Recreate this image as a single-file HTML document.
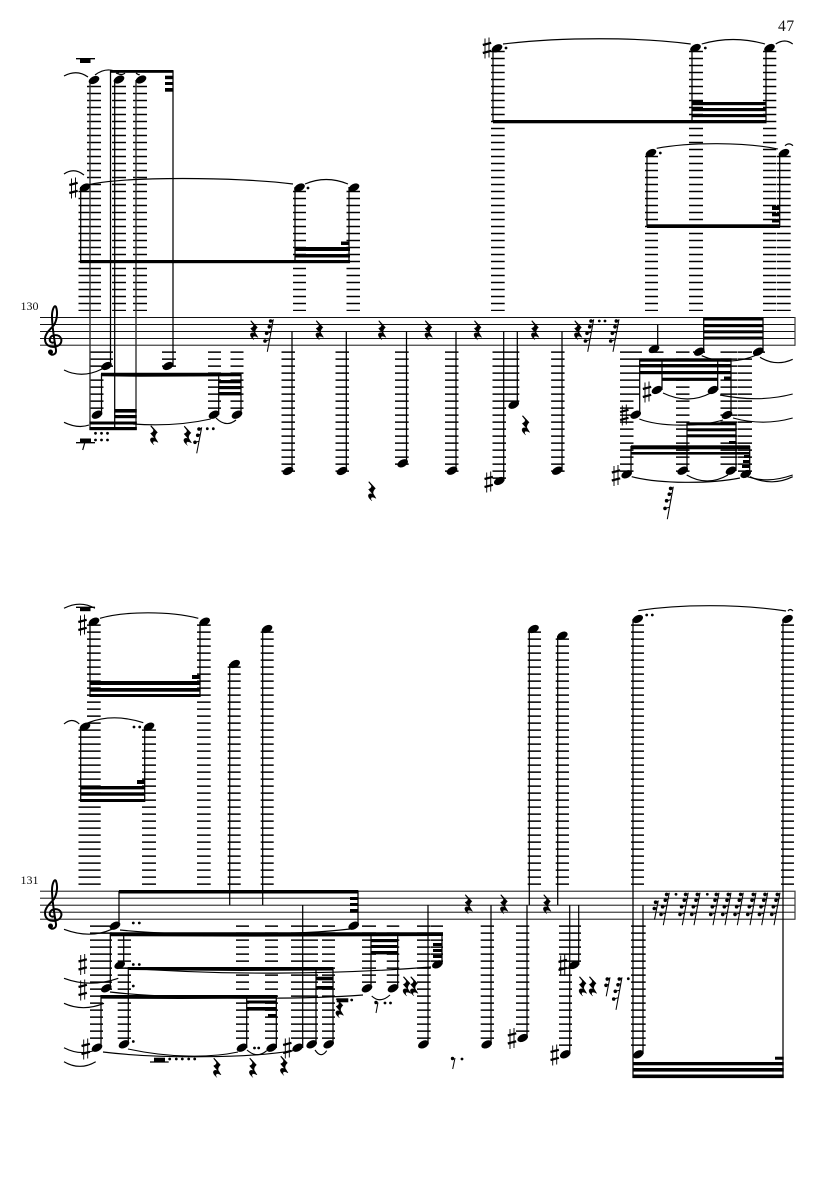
<!DOCTYPE html>
<html><head><meta charset="utf-8"><title>Score page 47</title>
<style>
html,body{margin:0;padding:0;background:#fff}
svg{display:block;position:absolute;left:0;top:0}
.l{stroke:#000;stroke-dasharray:1.5 5.5;fill:none}
.s{stroke:#000;stroke-width:1.25;fill:none}
.t{stroke:#000;stroke-width:1.15;fill:none}
.st{stroke:#111;stroke-width:1.05;fill:none}
.st2{stroke:#444;stroke-width:1.25;fill:none}
text{font-family:"Liberation Serif",serif;fill:#111}
</style></head><body>
<svg width="835" height="1181" viewBox="0 0 835 1181" xmlns="http://www.w3.org/2000/svg">
<defs>
<g id="n"><ellipse rx="5.7" ry="3.6" transform="rotate(-28)"/></g>
<g id="q"><path transform="scale(1.15 1.05)" d="M-2.5-9 3-2.5Q.5 0 1 2.5L3.5 7Q-1 4.5-1 7.5-1 8.5 0 9.5-4 6-3 3.5-2 2 .5 3L-3-1.5Q0-3-.5-5L-3-8.5Z" stroke="#000" stroke-width=".4"/></g>
<g id="h"><path d="M-2-9.5V10.5M2-10.5V9.5" stroke="#000" stroke-width=".95" fill="none"/><path d="M-4.2-3 4.2-5.2M-4.2 5 4.2 2.8" stroke="#000" stroke-width="2.2" fill="none"/></g>
<g id="r4"><path d="M0 0-6 32.5M-2.7 1.7 0 .8M-4 7.3-1.3 6.5M-6.7 14-2.5 13M-8.3 21.7-3.9 20.5" stroke="#000" stroke-width="1.05" fill="none"/><circle cx="-2.7" cy="1.7" r="1.8"/><circle cx="-4" cy="7.5" r="1.8"/><circle cx="-6.7" cy="14" r="1.8"/><circle cx="-8.3" cy="21.7" r="1.8"/></g>
<g id="r3"><path d="M0 0-5 26M-2.7 1.7 0 .8M-4 8-1.3 7M-6.7 15-2.5 14" stroke="#000" stroke-width="1.05" fill="none"/><circle cx="-2.7" cy="1.7" r="1.8"/><circle cx="-4" cy="8" r="1.8"/><circle cx="-6.7" cy="15" r="1.8"/></g>
<g id="r2"><path d="M0 0-3.8 19M-2.7 1.7 0 .8M-4 8-1.3 7" stroke="#000" stroke-width="1.05" fill="none"/><circle cx="-2.7" cy="1.7" r="1.8"/><circle cx="-4" cy="8" r="1.8"/></g>
<g id="c"><path d="M55 342C51 344 49 341 50 338.5 51 335 56 334.5 59 336 63 339 62 345 56 346.5 50 348 45 345 45 339 45 333 51 329 54 325 57 320 58 312 56 307 54.5 304 52 310 52 316 52 326 55 344 56 350 56.5 355 51 356 49.5 353" fill="none" stroke="#000" stroke-width="2"/><circle cx="50.5" cy="352" r="2.5"/></g>
</defs>

<text x="778" y="31" font-size="15.5" letter-spacing=".6">47</text>
<text x="20.5" y="310" font-size="12">130</text>
<text x="20.5" y="884" font-size="12">131</text>

<!-- staff 1 -->
<path class="st" d="M40 317.5H795M40 324.5H795M40 331.5H795M40 338.5H795"/>
<path class="st2" d="M40 345.3H795"/>
<path class="st2" d="M795 317V345.8"/>
<use href="#c"/>
<!-- staff 2 -->
<path class="st2" d="M40 891.2H795M40 898.2H795M40 905.2H795M40 912.2H795M40 919.2H795M795 890.6V919.8"/>
<use href="#c" y="574"/>

<!-- ledger lines staff 1 above -->
<path class="l" stroke-width="14" d="M94 85.7V311M119 85.7V311M140 85.7V311"/>
<path class="l" stroke-width="8.5" d="M82.75 190.7V311"/>
<path class="l" stroke-width="13" d="M299.5 190.7V311"/>
<path class="l" stroke-width="13.5" d="M353.25 190.7V311"/>
<path class="l" stroke-width="13.7" d="M497.85 50.7V311"/>
<path class="l" stroke-width="14" d="M696 50.7V311"/>
<path class="l" stroke-width="13.3" d="M769.65 50.7V311"/>
<path class="l" stroke-width="13" d="M651.5 155.7V311"/>
<path class="l" stroke-width="13.7" d="M783.85 155.7V311"/>
<!-- ledger lines staff 1 below -->
<path class="l" stroke-width="23" d="M101.5 351.4V367"/>
<path class="l" stroke-width="13.5" d="M96.75 379.4V409"/>
<path class="l" stroke-width="14" d="M169 351.4V367"/>
<path class="l" stroke-width="13" d="M214.5 351.4V409M237 351.4V409"/>
<path class="l" stroke-width="13.5" d="M288.25 351.4V472M342.25 351.4V472M451.75 351.4V472M557.85 351.4V472"/>
<path class="l" stroke-width="13.7" d="M401.85 351.4V465"/>
<path class="l" stroke-width="13.5" d="M499.25 351.4V479"/>
<path class="l" stroke-width="13.3" d="M512.65 351.4V402"/>
<path class="l" stroke-width="22" d="M631 351.4V353"/>
<path class="l" stroke-width="20" d="M630 358.4V395"/>
<path class="l" stroke-width="13.5" d="M626.75 400.4V472"/>
<path class="l" stroke-width="14" d="M656.5 351.4V353"/>
<path class="l" stroke-width="13.5" d="M682.75 351.4V472"/>
<path class="l" stroke-width="12" d="M699 351.4V353M759 351.4V353"/>
<path class="l" stroke-width="17" d="M729 351.4V465"/>
<path class="l" stroke-width="14" d="M745 351.4V472"/>
<!-- ledger lines staff 2 above -->
<path class="l" stroke-width="13.7" d="M93.85 624.4V885M203.85 624.4V885"/>
<path class="l" stroke-width="8.5" d="M82.75 729.4V885"/>
<path class="l" stroke-width="14" d="M149 729.4V885"/>
<path class="l" stroke-width="13" d="M234.2 666.4V885M267.2 631.4V885M637.5 624.4V885M787.5 624.4V885"/>
<path class="l" stroke-width="13.3" d="M534.35 631.4V885M562.35 638.4V885"/>
<!-- ledger lines staff 2 below -->
<path class="l" stroke-width="22" d="M101 925.4V990"/>
<path class="l" stroke-width="13" d="M96.5 995.4V1039"/>
<path class="l" stroke-width="13.3" d="M124.35 939.4V1039"/>
<path class="l" stroke-width="13" d="M242.5 925.4V1039M271.5 925.4V1039M311.5 925.4V1039M328.5 925.4V1039"/>
<path class="l" stroke-width="14" d="M298 925.4V1039"/>
<path class="l" stroke-width="14" d="M369 925.4V983"/>
<path class="l" stroke-width="12.5" d="M393 925.4V983"/>
<path class="l" stroke-width="13.7" d="M423.85 925.4V1039"/>
<path class="l" stroke-width="12" d="M437 925.4V962"/>
<path class="l" stroke-width="13.3" d="M487.35 925.4V1039M522.65 925.4V1032"/>
<path class="l" stroke-width="13" d="M565.5 925.4V1046"/>
<path class="l" stroke-width="9" d="M576.5 925.4V962"/>
<path class="l" stroke-width="14.7" d="M638.35 925.4V1046"/>

<!-- stems staff 1 -->
<path class="s" style="stroke:#333;stroke-width:1.4" d="M90 80V430M136 80V430"/>
<path class="s" d="M114.7 80V430M110.5 71V366M173 71V366M80.7 187V261M295 187V263M349 187V263M493 48V122M692 48V122M766 48V122M647 153V226M779.7 153V226"/>
<path class="s" d="M101.5 374V414.7M218.7 374V414.7M241 374V414.7M292 331.5V471M346.3 331.5V471M406.5 331.5V463M456 331.5V471M503.7 331.5V481M517.3 331.5V404.7M562 331.5V471"/>
<path class="s" d="M657.7 325V349M703.7 317.5V352M763 317.5V352M639.7 359V415M731 359V415M662 359V390M717.7 359V390M631 446V474M687 422.5V471M736 422.5V471M749.7 446V474"/>
<!-- stems staff 2 -->
<path class="s" d="M90 622V697M200 622V697M80.7 727V802M144.7 727V802M229.7 664V905M262.7 629V905M529.3 629V905M557.7 636V905M633 619V1078M783 619V1078"/>
<path class="s" d="M119 891V926M358 891V926M110.3 933V988M123.7 933V965M371 935V988M397.7 935V988M442 934V964M428 905V1044M128.3 967V1044M316 968V1044M333 968V1044M101 995V1048M246.7 995V1048M276.3 995V1048M302.7 905V1048M491 905V1045M527 905V1038M569.7 905V1054M578.7 905V965M643 905V1054"/>

<!-- beams staff 1 -->
<g fill="#000">
<rect x="110" y="70" width="63.5" height="2.8"/>
<rect x="165" y="75.7" width="8" height="3.5"/><rect x="165" y="82" width="8" height="3"/><rect x="165" y="88" width="8" height="3.7"/>
<rect x="80" y="260" width="270" height="3.2"/>
<rect x="295" y="247" width="55" height="4"/><rect x="295" y="254" width="55" height="3.5"/>
<rect x="341" y="241.5" width="8" height="3.5"/>
<rect x="493" y="120" width="273.5" height="3.3"/>
<rect x="692" y="102" width="74" height="3.2"/><rect x="692" y="108" width="74" height="3.2"/><rect x="692" y="114" width="74" height="3.2"/>
<rect x="692" y="100" width="11" height="3"/><rect x="692" y="107" width="11" height="3"/>
<rect x="647" y="224.3" width="133" height="3.7"/>
<rect x="772" y="206" width="8" height="4"/><rect x="772" y="213" width="8" height="3.3"/><rect x="772" y="219" width="8" height="3.5"/>
<path d="M101 372.8 241.5 372.8V376.2L140 376.8 101 376.2Z"/>
<rect x="218.7" y="380" width="22.8" height="3.3"/><rect x="218.7" y="386" width="22.8" height="3.2"/><rect x="218.7" y="392" width="22.8" height="3.4"/>
<rect x="89.5" y="421.5" width="47.3" height="3"/><rect x="89.5" y="427" width="47.3" height="3.2"/>
<rect x="114.7" y="409" width="22" height="3.6"/><rect x="114.7" y="415" width="22" height="3.2"/>
<rect x="703.7" y="317.5" width="59.5" height="3"/><rect x="703.7" y="324" width="59.5" height="3.2"/><rect x="703.7" y="330.3" width="59.5" height="3"/><rect x="703.7" y="336.5" width="59.5" height="3"/>
<rect x="639.5" y="358.3" width="92" height="3.4"/><rect x="639.5" y="364" width="92" height="3.4"/><rect x="639.5" y="371" width="92" height="3.2"/><rect x="662" y="377.7" width="56" height="3.2"/>
<rect x="724" y="376.5" width="7" height="3.3"/>
<rect x="687" y="422.3" width="49.5" height="3"/><rect x="687" y="428.3" width="49.5" height="3"/><rect x="687" y="434.3" width="49.5" height="3"/>
<rect x="631" y="445.3" width="119" height="4"/><rect x="631" y="452" width="119" height="2.6"/>
<rect x="729" y="441" width="7" height="3"/>
<rect x="744" y="455" width="6" height="3"/><rect x="743" y="460" width="7" height="3"/><rect x="742" y="465" width="8" height="3"/>
<!-- beams staff 2 -->
<rect x="90" y="681" width="110.5" height="4"/><rect x="90" y="688" width="110.5" height="3.7"/><rect x="90" y="694" width="110.5" height="3"/>
<rect x="192" y="675" width="8" height="4"/>
<rect x="80.7" y="786" width="64" height="3.4"/><rect x="80.7" y="792.3" width="64" height="3.4"/><rect x="80.7" y="799" width="64" height="3"/>
<rect x="137" y="780" width="7.7" height="4"/>
<rect x="119" y="890" width="239.3" height="3.5"/>
<rect x="350" y="897" width="8" height="3"/><rect x="350" y="903" width="8" height="3"/><rect x="350" y="909" width="8" height="3.7"/>
<path d="M110 932.3H443V936L250 936.6 110 936.2Z"/>
<rect x="371" y="939" width="26.7" height="3.2"/><rect x="371" y="945" width="26.7" height="3"/><rect x="371" y="951" width="26.7" height="3.4"/>
<rect x="433" y="943" width="9" height="3"/><rect x="433" y="949" width="9" height="3"/><rect x="433" y="955" width="9" height="3"/>
<path d="M128 967H333.3V970.5L240 971 128 970Z"/>
<rect x="316" y="976.7" width="17.3" height="3.6"/><rect x="316" y="986" width="17.3" height="3.6"/>
<path d="M101 995H276.5V998.5L180 999 101 998.6Z"/>
<rect x="246.7" y="1000.5" width="29.6" height="3"/><rect x="246.7" y="1007" width="29.6" height="3.6"/>
<rect x="268" y="1014" width="8.3" height="3"/>
<rect x="632.5" y="1062" width="151.2" height="3.3"/><rect x="632.5" y="1068" width="151.2" height="3.6"/><rect x="632.5" y="1074.5" width="151.2" height="3.6"/>
<rect x="775" y="1056.7" width="8.7" height="3"/>
</g>

<!-- heads staff 1 -->
<g fill="#000">
<use href="#n" x="94" y="80"/><use href="#n" x="119" y="79.5"/><use href="#n" x="141" y="79.5"/><use href="#n" x="106.5" y="366"/><use href="#n" x="168" y="366"/>
<use href="#n" x="85" y="187.5"/><use href="#n" x="299.5" y="187.5"/><use href="#n" x="354" y="187.5"/>
<use href="#n" x="97" y="414.7"/><use href="#n" x="214" y="414.7"/><use href="#n" x="237" y="414.7"/>
<use href="#n" x="288" y="471"/><use href="#n" x="342" y="471"/><use href="#n" x="402.7" y="463.3"/><use href="#n" x="452" y="470.7"/><use href="#n" x="499.3" y="481"/><use href="#n" x="513.7" y="404.7"/><use href="#n" x="557.3" y="470.7"/>
<use href="#n" x="497" y="48.3"/><use href="#n" x="695.5" y="48"/><use href="#n" x="769.5" y="48"/><use href="#n" x="651" y="153"/><use href="#n" x="784" y="153"/>
<use href="#n" x="654" y="349"/><use href="#n" x="699.3" y="351.7"/><use href="#n" x="758.3" y="351.7"/>
<use href="#n" x="635.7" y="414.7"/><use href="#n" x="727" y="415"/><use href="#n" x="657" y="390"/><use href="#n" x="713" y="390"/>
<use href="#n" x="626.7" y="474.3"/><use href="#n" x="682.7" y="470.7"/><use href="#n" x="731" y="470.7"/><use href="#n" x="745.7" y="474"/>
<!-- heads staff 2 -->
<use href="#n" x="94" y="621.7"/><use href="#n" x="204.7" y="621.7"/><use href="#n" x="85" y="726.7"/><use href="#n" x="149" y="726.7"/>
<use href="#n" x="234.7" y="664"/><use href="#n" x="267" y="629"/><use href="#n" x="533.5" y="629"/><use href="#n" x="562.3" y="635.7"/><use href="#n" x="637.7" y="619"/><use href="#n" x="787.5" y="619"/>
<use href="#n" x="115" y="925.7"/><use href="#n" x="353.7" y="925.7"/><use href="#n" x="106.3" y="988.3"/><use href="#n" x="119.7" y="965"/>
<use href="#n" x="367" y="988.3"/><use href="#n" x="393" y="988.3"/><use href="#n" x="437.4" y="964.4"/><use href="#n" x="423.4" y="1044.4"/>
<use href="#n" x="124" y="1044.3"/><use href="#n" x="311.7" y="1044.3"/><use href="#n" x="328.7" y="1044.3"/>
<use href="#n" x="97" y="1047.7"/><use href="#n" x="242" y="1047.7"/><use href="#n" x="271.7" y="1047.7"/><use href="#n" x="297.7" y="1047.7"/>
<use href="#n" x="486.7" y="1044.4"/><use href="#n" x="522.7" y="1038"/><use href="#n" x="565.3" y="1054.3"/><use href="#n" x="574" y="965"/><use href="#n" x="638.3" y="1054.3"/>

<!-- sharps -->
<use href="#h" x="73.5" y="188"/><use href="#h" x="487" y="48"/><use href="#h" x="488.7" y="482"/><use href="#h" x="624.3" y="415"/><use href="#h" x="647" y="392"/><use href="#h" x="616" y="475.5"/>
<use href="#h" x="82.5" y="625"/><use href="#h" x="82.7" y="964.5"/><use href="#h" x="82.7" y="990"/><use href="#h" x="85.7" y="1049"/><use href="#h" x="287.3" y="1048"/><use href="#h" x="512" y="1038.5"/><use href="#h" x="554.7" y="1055"/><use href="#h" x="562.7" y="965"/>

<!-- dots -->
<circle cx="308" cy="188" r="1.4"/><circle cx="506" cy="48" r="1.4"/><circle cx="705.3" cy="48" r="1.4"/><circle cx="660.3" cy="153" r="1.4"/>
<circle cx="95.5" cy="433.3" r="1.4"/><circle cx="101.5" cy="433.3" r="1.4"/><circle cx="107.5" cy="433.3" r="1.4"/><circle cx="95.5" cy="440" r="1.4"/><circle cx="101.5" cy="440" r="1.4"/><circle cx="107.5" cy="440" r="1.4"/>
<circle cx="207.3" cy="428.7" r="1.4"/><circle cx="213.3" cy="428.7" r="1.4"/><circle cx="599.3" cy="321" r="1.4"/><circle cx="605" cy="321" r="1.4"/>
<circle cx="134" cy="727" r="1.4"/><circle cx="139.7" cy="727" r="1.4"/><circle cx="646.7" cy="615" r="1.4"/><circle cx="652.3" cy="615" r="1.4"/>
<circle cx="133.3" cy="923" r="1.4"/><circle cx="139.3" cy="923" r="1.4"/><circle cx="133.3" cy="964.5" r="1.4"/><circle cx="139.3" cy="964.5" r="1.4"/><circle cx="133.3" cy="986" r="1.4"/><circle cx="133.3" cy="1041.5" r="1.4"/>
<circle cx="254.5" cy="1048" r="1.4"/><circle cx="258.7" cy="1048" r="1.4"/>
<circle cx="169.7" cy="1059" r="1.4"/><circle cx="176.3" cy="1059" r="1.4"/><circle cx="182.3" cy="1059" r="1.4"/><circle cx="188.7" cy="1059" r="1.4"/><circle cx="194.7" cy="1059" r="1.4"/>
<circle cx="351.7" cy="1000" r="1.4"/><circle cx="385" cy="1003" r="1.4"/><circle cx="390.5" cy="1003" r="1.4"/><circle cx="462" cy="1059" r="1.4"/>
<circle cx="676" cy="894.3" r="1.4"/><circle cx="707.3" cy="894.3" r="1.4"/><circle cx="628.3" cy="978.7" r="1.4"/>

<!-- rests: whole-style blocks -->
<path d="M76 58.7H95" stroke="#000" stroke-width="1.3"/><rect x="80" y="59" width="10.5" height="4"/>
<path d="M76 442.7H95" stroke="#000" stroke-width="1.3"/><rect x="80" y="438.5" width="11" height="4"/><path d="M85 442 82.7 450" stroke="#000" stroke-width="1.2"/>
<path d="M76 607.3H95" stroke="#000" stroke-width="1.3"/><rect x="80" y="608" width="10.5" height="3.2"/>
<path d="M150 1062H168.7" stroke="#000" stroke-width="1.3"/><rect x="154" y="1057.7" width="11" height="4.3"/>
<rect x="336.7" y="998.3" width="11.6" height="4"/>
<path d="M378 1002.5 376 1013" stroke="#000" stroke-width="1"/><circle cx="376" cy="1002.5" r="1.7"/>
<path d="M455 1058 452.7 1069" stroke="#000" stroke-width="1"/><circle cx="452.5" cy="1058.5" r="1.7"/>

<!-- quarter rests -->
<use href="#q" x="154" y="435"/><use href="#q" x="187.5" y="435.5"/><use href="#q" x="254" y="330"/><use href="#q" x="319.5" y="330"/><use href="#q" x="382" y="330"/><use href="#q" x="372" y="491"/><use href="#q" x="428.5" y="330"/><use href="#q" x="477.7" y="330"/><use href="#q" x="525.7" y="425"/><use href="#q" x="535" y="330"/><use href="#q" x="578" y="330"/>
<use href="#q" x="217" y="1067.5"/><use href="#q" x="253" y="1067.5"/><use href="#q" x="284" y="1065.5"/><use href="#q" x="339.5" y="1008"/><use href="#q" x="406.7" y="986"/><use href="#q" x="414" y="986"/><use href="#q" x="468.5" y="904"/><use href="#q" x="504" y="904"/><use href="#q" x="547" y="904"/><use href="#q" x="582.7" y="986"/><use href="#q" x="592.7" y="986"/>

<!-- flagged rests -->
<use href="#r4" x="273.3" y="319.3"/><use href="#r4" x="593.7" y="319.3"/><use href="#r4" x="619" y="319.3"/><use href="#r4" x="673.3" y="486.7"/>
<use href="#r3" x="201.7" y="427.3"/><use href="#r2" x="610" y="977.3"/><use href="#r4" x="622" y="977.3"/>
<use href="#r2" x="658.3" y="900.5"/>
<use href="#r4" x="669.3" y="892.7"/><use href="#r4" x="688.3" y="892.7"/><use href="#r4" x="700" y="892.7"/><use href="#r4" x="719" y="892.7"/><use href="#r4" x="731" y="892.7"/><use href="#r4" x="743.3" y="892.7"/><use href="#r4" x="756" y="892.7"/><use href="#r4" x="767.7" y="892.7"/><use href="#r4" x="780" y="892.7"/>

<!-- ties staff 1 -->
<g class="t">
<path d="M64 76Q77 69 88 77"/><path d="M95 75Q107 66 119 73"/><path d="M116 73Q122 76 125 73M136 73Q140 76 139 74"/>
<path d="M64 174Q74 167 84 175"/><path d="M88 185C120 176 240 177 293 184"/><path d="M305 184Q326 175 348 184"/>
<path d="M503 44C560 37 640 37 690.7 44"/><path d="M701.7 44Q733 35 765 44"/><path d="M775.7 44Q785 38 792.7 44"/>
<path d="M656.7 148.3C690 142 745 142 778 149"/><path d="M785 145.7Q789 142 793 145.7"/>
<path d="M64 370Q82 379 102 369"/><path d="M64 422.3Q78 429 89 425"/><path d="M133 424Q175 427 210.7 419"/><path d="M216 418Q226 428 236 420"/>
<path d="M701.7 355.7C720 364 740 362 756.7 355"/><path d="M760 357.3Q776 367 792.7 359.3"/>
<path d="M663 393Q688 405 710.7 393"/><path d="M720 395C745 400 770 400 792.7 394"/>
<path d="M639.3 419C660 427 700 427 723 420"/><path d="M733 418C755 424 775 423 792.7 418"/>
<path d="M631.7 476.7C660 484 710 484 740 478"/><path d="M686.7 475Q707 487 728 475"/>
<path d="M743 475C760 482 775 481 792.7 475"/><path d="M750 476.7C765 484 780 483 792.7 476.7"/>
<!-- ties staff 2 -->
<path d="M64 608.3Q80 600 95 608.3"/><path d="M100 618.3C125 611 170 611 198.3 618.3"/>
<path d="M64 724Q72 717 79.3 724"/><path d="M88.3 722.7Q113 713 143.3 722.7"/>
<path d="M638.3 610.7C680 604 740 604 786 611"/><path d="M788 611Q790 608 793 611"/>
<path d="M64 929.3Q90 939 111.7 929.3"/><path d="M120 930C180 936 290 936 350 929"/>
<path d="M64 978.3Q90 988 118.3 978.3"/><path d="M64 1003.3Q83 1012 104 1003.3"/>
<path d="M125 968C220 975 330 975 431 967"/><path d="M110 992C170 999 300 1000 363 995"/>
<path d="M371.7 996Q380 1004 390 995"/>
<path d="M64 1047.7Q80 1056 96 1050"/><path d="M64 1061.7Q80 1071 95.7 1061.7"/>
<path d="M103 1052C160 1059 250 1058 293 1050.7"/><path d="M128 1049C170 1058 210 1058 238 1052"/>
<path d="M247 1050Q257 1059 266.7 1050.7"/><path d="M315 1050Q321 1059 326.7 1050.7"/>
</g>
</svg>
</body></html>
